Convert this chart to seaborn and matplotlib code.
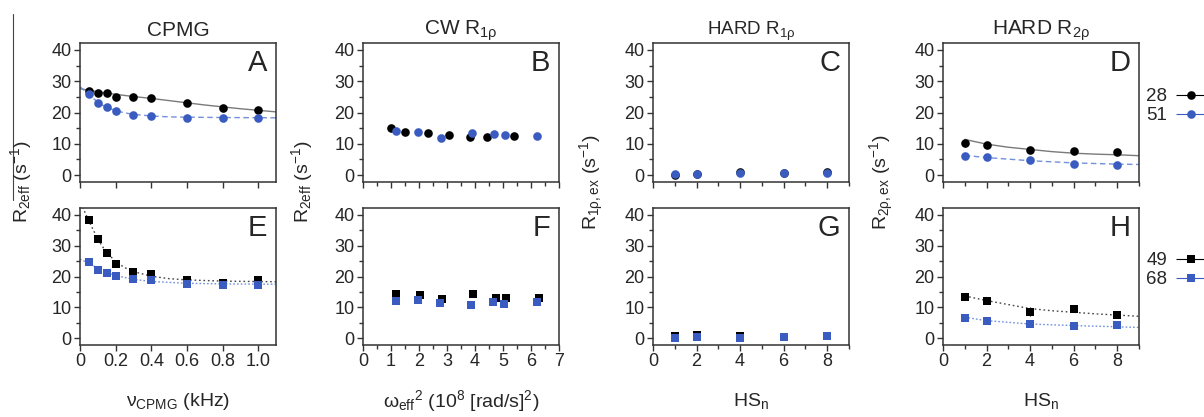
import matplotlib
matplotlib.use("Agg")
import matplotlib.pyplot as plt
import numpy as np
import seaborn as sns
from matplotlib.legend_handler import HandlerErrorbar
from matplotlib.lines import Line2D
from matplotlib.ticker import FixedLocator, FuncFormatter, MultipleLocator

# ---- data ---------------------------------------------------------------
# CPMG (panels A / E)
cpmg_x = [0.05, 0.1, 0.15, 0.2, 0.3, 0.4, 0.6, 0.8, 1.0]
cpmg_28 = [26.9, 26.1, 26.1, 25.0, 25.0, 24.5, 23.1, 21.3, 20.7]
cpmg_51 = [25.9, 23.1, 21.6, 20.5, 19.1, 18.9, 18.3, 18.3, 18.3]
cpmg_49 = [38.4, 32.2, 27.7, 24.2, 21.4, 20.7, 18.8, 18.0, 18.8]
cpmg_68 = [24.7, 22.1, 21.2, 20.2, 19.1, 18.8, 17.7, 17.2, 17.2]
cpmg_err = [0.6, 0.5, 0.5, 0.5, 0.8, 0.6, 0.5, 0.5, 0.5]

fit_a_x28 = [0, 0.1, 0.2, 0.3, 0.4, 0.5, 0.6, 0.7, 0.8, 0.9, 1.0, 1.1]
fit_a_28 = [27.6, 26.6, 25.8, 25.1, 24.5, 23.8, 23.1, 22.4, 21.8, 21.2, 20.7, 20.2]
fit_a_x51 = [0, 0.025, 0.05, 0.075, 0.1, 0.125, 0.15, 0.2, 0.25, 0.3, 0.4, 0.5,
             0.6, 0.8, 1.1]
fit_a_51 = [28.2, 27.0, 25.9, 24.5, 23.3, 22.4, 21.7, 20.6, 19.9, 19.4, 18.9,
            18.6, 18.5, 18.4, 18.3]
fit_e_x49 = [0.015, 0.03, 0.05, 0.075, 0.1, 0.125, 0.15, 0.2, 0.25, 0.3, 0.4,
             0.5, 0.6, 0.8, 1.1]
fit_e_49 = [42.5, 40.5, 38.0, 35.0, 32.2, 29.8, 27.8, 24.8, 22.9, 21.6, 20.1,
            19.3, 18.9, 18.5, 18.3]
fit_e_x68 = [0, 0.05, 0.1, 0.15, 0.2, 0.3, 0.4, 0.6, 0.8, 1.1]
fit_e_68 = [25.6, 24.3, 22.6, 21.3, 20.3, 19.1, 18.4, 17.8, 17.6, 17.5]

# CW R1rho (panels B / F)
cw_x28 = [0.99, 1.49, 2.31, 3.06, 3.83, 4.43, 5.41]
cw_28 = [15.1, 13.8, 13.5, 12.7, 12.2, 12.2, 12.4]
cw_x51 = [1.17, 1.98, 2.78, 3.88, 4.67, 5.08, 6.22]
cw_51 = [14.1, 13.8, 12.0, 13.3, 13.0, 12.8, 12.6]
cw_x49 = [1.19, 2.03, 2.81, 3.94, 4.75, 5.11, 6.28]
cw_49 = [14.2, 14.0, 12.8, 14.2, 12.9, 12.9, 12.9]
cw_x68 = [1.17, 1.97, 2.75, 3.86, 4.66, 5.05, 6.21]
cw_68 = [12.1, 12.3, 11.3, 10.7, 11.7, 11.2, 11.7]
cw_err = [0.4, 0.4, 0.4, 0.4, 0.4, 0.4, 0.4]

# HARD R1rho / R2rho (panels C, G / D, H)
hs_n = [1, 2, 4, 6, 8]
r1_28 = [0.0, 0.5, 0.9, 0.8, 1.0]
r1_51 = [0.2, 0.5, 0.8, 0.7, 0.6]
r1_49 = [0.7, 1.0, 0.7, 0.4, 0.6]
r1_68 = [0.2, 0.4, 0.1, 0.3, 0.6]
r1_err = [0.5, 0.5, 0.5, 0.5, 0.5]
r2_28 = [10.1, 9.5, 7.9, 7.7, 7.5]
r2_51 = [6.0, 5.8, 4.9, 3.4, 3.2]
r2_49 = [13.4, 12.1, 8.6, 9.5, 7.6]
r2_68 = [6.6, 5.5, 4.7, 4.1, 4.2]
r2_err_black = [1.2, 0.8, 0.6, 0.6, 0.8]
r2_err_black2 = [0.8, 0.7, 1.5, 0.9, 0.8]
r2_err_blue = [0.6, 0.6, 0.6, 0.5, 0.5]

fit_d_x = [1, 2, 3, 4, 5, 6, 7, 8, 9]
fit_d_28 = [11.4, 9.9, 8.9, 8.2, 7.5, 7.0, 6.7, 6.5, 6.2]
fit_d_x51 = [1, 2, 4, 6, 8, 9]
fit_d_51 = [6.3, 5.6, 4.6, 3.9, 3.5, 3.4]
fit_h_x = [1, 2, 3, 4, 5, 6, 7, 8, 9]
fit_h_49 = [13.7, 12.2, 10.9, 9.6, 8.9, 8.4, 7.9, 7.5, 7.1]
fit_h_x68 = [1, 2, 4, 6, 8, 9]
fit_h_68 = [6.8, 5.7, 4.6, 4.1, 3.7, 3.5]

BLACK = "#000000"
BLUE = "#3a5cc0"
FIT_BLACK = "#7a7a7a"
FIT_BLUE = "#7390dc"

sns.set_theme(style="ticks")
plt.rcParams["font.family"] = ["Liberation Sans", "DejaVu Sans"]
plt.rcParams["mathtext.fontset"] = "custom"
plt.rcParams["mathtext.rm"] = "Liberation Sans"
plt.rcParams["mathtext.it"] = "Liberation Sans:italic"

W, H = 1204, 417
fig = plt.figure(figsize=(W / 100, H / 100), dpi=100)

col_left = [80, 363, 653, 943]
col_w = 196
rows = [(43, 182), (208, 345)]


def make_axes(col, row):
    top, bottom = rows[row]
    return fig.add_axes([col_left[col] / W, 1 - bottom / H,
                         col_w / W, (bottom - top) / H])


def style_axes(ax, letter, xlim, xmajor, xminor, show_xlabels, fmt=None):
    ax.set_xlim(*xlim)
    ax.set_ylim(-2.2, 42.2)
    ax.yaxis.set_major_locator(FixedLocator([0, 10, 20, 30, 40]))
    ax.yaxis.set_minor_locator(MultipleLocator(5))
    ax.xaxis.set_major_locator(MultipleLocator(xmajor))
    if xminor:
        ax.xaxis.set_minor_locator(MultipleLocator(xminor))
    if fmt:
        ax.xaxis.set_major_formatter(FuncFormatter(fmt))
    ax.tick_params(which="major", direction="out", length=4, width=1,
                   labelsize=13, color="#333333", pad=2)
    ax.tick_params(which="minor", direction="out", length=3, width=1,
                   color="#333333")
    if not show_xlabels:
        ax.tick_params(axis="x", labelbottom=False)
    for sp in ax.spines.values():
        sp.set_color("#333333")
        sp.set_linewidth(1.1)
    ax.set_xlabel("")
    ax.set_ylabel("")
    ax.text(0.955, 0.955, letter, transform=ax.transAxes, ha="right",
            va="top", fontsize=21)


def points(ax, x, y, err, color, marker, ms):
    return ax.errorbar(x, y, yerr=err, xerr=np.zeros(len(x)), fmt=marker,
                       color=color, ms=ms, mew=0, elinewidth=0.8,
                       capsize=3.5, capthick=0.9, zorder=3)


def fit(ax, x, y, color, ls, lw=1.0):
    sns.lineplot(x=x, y=y, ax=ax, color=color, linestyle=ls, linewidth=lw,
                 sort=False, zorder=2)


def cpmg_fmt(v, pos):
    return "0" if abs(v) < 1e-9 else f"{v:.1f}"


CIRC, SQ = 6.2, 6.0

# A
ax = make_axes(0, 0)
fit(ax, fit_a_x28, fit_a_28, FIT_BLACK, "-")
fit(ax, fit_a_x51, fit_a_51, FIT_BLUE, (0, (4, 2.5)))
points(ax, cpmg_x, cpmg_28, cpmg_err, BLACK, "o", CIRC)
points(ax, cpmg_x, cpmg_51, cpmg_err, BLUE, "o", CIRC)
style_axes(ax, "A", (0, 1.1), 0.2, None, False, cpmg_fmt)
ax.set_title("CPMG", fontsize=15, pad=5)

# E
ax = make_axes(0, 1)
fit(ax, fit_e_x49, fit_e_49, "#444444", (0, (1.2, 2)))
fit(ax, fit_e_x68, fit_e_68, FIT_BLUE, (0, (1.2, 1.5)))
points(ax, cpmg_x, cpmg_49, cpmg_err, BLACK, "s", SQ)
points(ax, cpmg_x, cpmg_68, cpmg_err, BLUE, "s", SQ)
style_axes(ax, "E", (0, 1.1), 0.2, None, True, cpmg_fmt)

# B
ax = make_axes(1, 0)
points(ax, cw_x28, cw_28, cw_err, BLACK, "o", CIRC)
points(ax, cw_x51, cw_51, cw_err, BLUE, "o", CIRC)
style_axes(ax, "B", (0, 7), 1, 0.5, False)
ax.set_title(r"CW R$_{\mathregular{1ρ}}$", fontsize=15, pad=5)

# F
ax = make_axes(1, 1)
points(ax, cw_x49, cw_49, cw_err, BLACK, "s", SQ)
points(ax, cw_x68, cw_68, cw_err, BLUE, "s", SQ)
style_axes(ax, "F", (0, 7), 1, 0.5, True)

# C
ax = make_axes(2, 0)
points(ax, hs_n, r1_28, r1_err, BLACK, "o", CIRC)
points(ax, hs_n, r1_51, r1_err, BLUE, "o", CIRC)
style_axes(ax, "C", (0, 9), 2, 1, False)
ax.set_title(r"HARD R$_{\mathregular{1ρ}}$", fontsize=13.5, pad=5)

# G
ax = make_axes(2, 1)
points(ax, hs_n, r1_49, r1_err, BLACK, "s", SQ)
points(ax, hs_n, r1_68, r1_err, BLUE, "s", SQ)
style_axes(ax, "G", (0, 9), 2, 1, True)

# D
ax = make_axes(3, 0)
fit(ax, fit_d_x, fit_d_28, FIT_BLACK, "-")
fit(ax, fit_d_x51, fit_d_51, FIT_BLUE, (0, (4, 2.5)))
h28 = points(ax, hs_n, r2_28, r2_err_black, BLACK, "o", CIRC)
h51 = points(ax, hs_n, r2_51, r2_err_blue, BLUE, "o", CIRC)
style_axes(ax, "D", (0, 9), 2, 1, False)
ax.set_title(r"HARD R$_{\mathregular{2ρ}}$", fontsize=15, pad=5)
handler = {type(h28): HandlerErrorbar(xerr_size=0.8, yerr_size=0)}
ax.legend([h28, h51], ["28", "51"], loc="upper left",
          bbox_to_anchor=(1146 / W, 1 - 88 / H), bbox_transform=fig.transFigure,
          frameon=False, markerfirst=False, fontsize=13.5, handlelength=1.9,
          handletextpad=0.35, borderpad=0, borderaxespad=0, labelspacing=0.12,
          handler_map=handler)

# H
ax = make_axes(3, 1)
fit(ax, fit_h_x, fit_h_49, "#444444", (0, (1.2, 2)))
fit(ax, fit_h_x68, fit_h_68, FIT_BLUE, (0, (1.2, 1.5)))
h49 = points(ax, hs_n, r2_49, r2_err_black2, BLACK, "s", SQ)
h68 = points(ax, hs_n, r2_68, r2_err_blue, BLUE, "s", SQ)
style_axes(ax, "H", (0, 9), 2, 1, True)
ax.legend([h49, h68], ["49", "68"], loc="upper left",
          bbox_to_anchor=(1146 / W, 1 - 252 / H), bbox_transform=fig.transFigure,
          frameon=False, markerfirst=False, fontsize=13.5, handlelength=1.9,
          handletextpad=0.35, borderpad=0, borderaxespad=0, labelspacing=0.12,
          handler_map=handler)

# shared y labels (span both rows) and x labels
ylabels = [r"R$_{\mathregular{2eff}}$ (s$^{\mathregular{-1}}$)",
           r"R$_{\mathregular{2eff}}$ (s$^{\mathregular{-1}}$)",
           r"R$_{\mathregular{1ρ,ex}}$ (s$^{\mathregular{-1}}$)",
           r"R$_{\mathregular{2ρ,ex}}$ (s$^{\mathregular{-1}}$)"]
ylabel_x = [21, 302, 592, 882]
for lab, xp in zip(ylabels, ylabel_x):
    fig.text(xp / W, 1 - 182 / H, lab, rotation=90, ha="center", va="center",
             fontsize=14)

xlabels = [r"ν$_{\mathregular{CPMG}}$ (kHz)",
           r"ω$_{\mathregular{eff}}$$^{\mathregular{2}}$ (10$^{\mathregular{8}}$ [rad/s]$^{\mathregular{2}}$)",
           r"HS$_{\mathregular{n}}$", r"HS$_{\mathregular{n}}$"]
for lab, left in zip(xlabels, col_left):
    fig.text((left + col_w / 2) / W, 1 - 401 / H, lab, ha="center",
             va="center", fontsize=14)

# thin frame line at the left edge of the reference crop
fig.add_artist(Line2D([13 / W, 13 / W], [1 - 14 / H, 1 - 200 / H],
                      transform=fig.transFigure, color="#444444", lw=0.8))

fig.savefig("out.png", dpi=100)
